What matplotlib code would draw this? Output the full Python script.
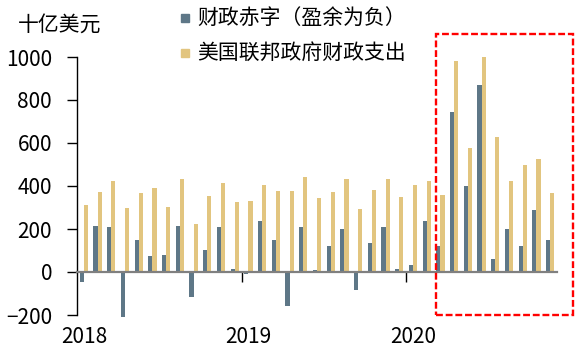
import matplotlib
matplotlib.use("Agg")
import matplotlib.pyplot as plt
from matplotlib.patches import Rectangle
import numpy as np

plt.rcParams["font.family"] = ["Noto Sans CJK SC", "DejaVu Sans"]

# monthly, Jan 2018 - Nov 2020, billion USD
months = [f"{y}-{m:02d}" for y in (2018, 2019, 2020) for m in range(1, 13)][:35]
deficit = [-48, 215, 209, -208, 149, 74, 79, 215, -118, 102, 208, 14,
           -8, 236, 147, -160, 208, 8, 121, 200, -82, 135, 209, 13,
           33, 235, 121, 743, 400, 868, 62, 200, 123, 287, 147]
outlays = [312, 372, 422, 296, 366, 392, 302, 434, 225, 355, 412, 327,
           332, 403, 377, 377, 442, 344, 372, 431, 293, 381, 434, 350,
           406, 423, 358, 983, 575, 1002, 627, 423, 499, 524, 367]
year_labels = ["2018", "2019", "2020"]
series_names = ["财政赤字（盈余为负）", "美国联邦政府财政支出"]

C_DEF = "#5e7787"
C_OUT = "#e2c57f"
W, H = 576, 356

fig = plt.figure(figsize=(W / 100, H / 100), dpi=100)
ax = fig.add_axes([77 / W, 1 - 315 / H, (557 - 77) / W, (315 - 57) / H])

x = np.arange(len(months))
bw = 0.3
ax.bar(x - bw / 2, deficit, bw, color=C_DEF, clip_on=False)
ax.bar(x + bw / 2, outlays, bw, color=C_OUT, clip_on=False)

ax.set_xlim(-0.5, len(months) - 0.5)
ax.set_ylim(-200, 1000)
ax.set_yticks(range(-200, 1001, 200))

for s in ("top", "right"):
    ax.spines[s].set_visible(False)
ax.spines["left"].set_color("black")
ax.spines["left"].set_linewidth(1)
ax.spines["bottom"].set_position(("data", 0))
ax.spines["bottom"].set_color("#808080")
ax.spines["bottom"].set_linewidth(1.6)
ax.spines["bottom"].set_zorder(3)

ax.tick_params(axis="y", direction="out", length=7, width=1, pad=11, labelsize=15)
ax.set_xticks([11.5, 23.5])
ax.set_xticklabels([])
ax.set_xticks([0, 12, 24], minor=True)
ax.set_xticklabels(year_labels, minor=True)
ax.tick_params(axis="x", which="major", direction="out", length=7, width=1, color="black")
ax.tick_params(axis="x", which="minor", length=0, pad=39, labelsize=15)

fig.text(60 / W, 1 - 25 / H, "十亿美元", ha="center", va="center", fontsize=15)

# legend
for i, (name, c) in enumerate(zip(series_names, [C_DEF, C_OUT])):
    yc = [18, 53][i]
    fig.add_artist(Rectangle((181 / W, 1 - (yc + 4) / H), 8 / W, 8 / H,
                             transform=fig.transFigure, color=c))
    fig.text(197 / W, 1 - yc / H, name, ha="left", va="center", fontsize=15)

# highlight box
fig.add_artist(Rectangle((436 / W, 1 - 315 / H), (573 - 436) / W, (315 - 34) / H,
                         transform=fig.transFigure, fill=False, edgecolor="red",
                         linewidth=1.7, linestyle=(0, (2.9, 1.2))))

fig.savefig("out.png", dpi=100)
